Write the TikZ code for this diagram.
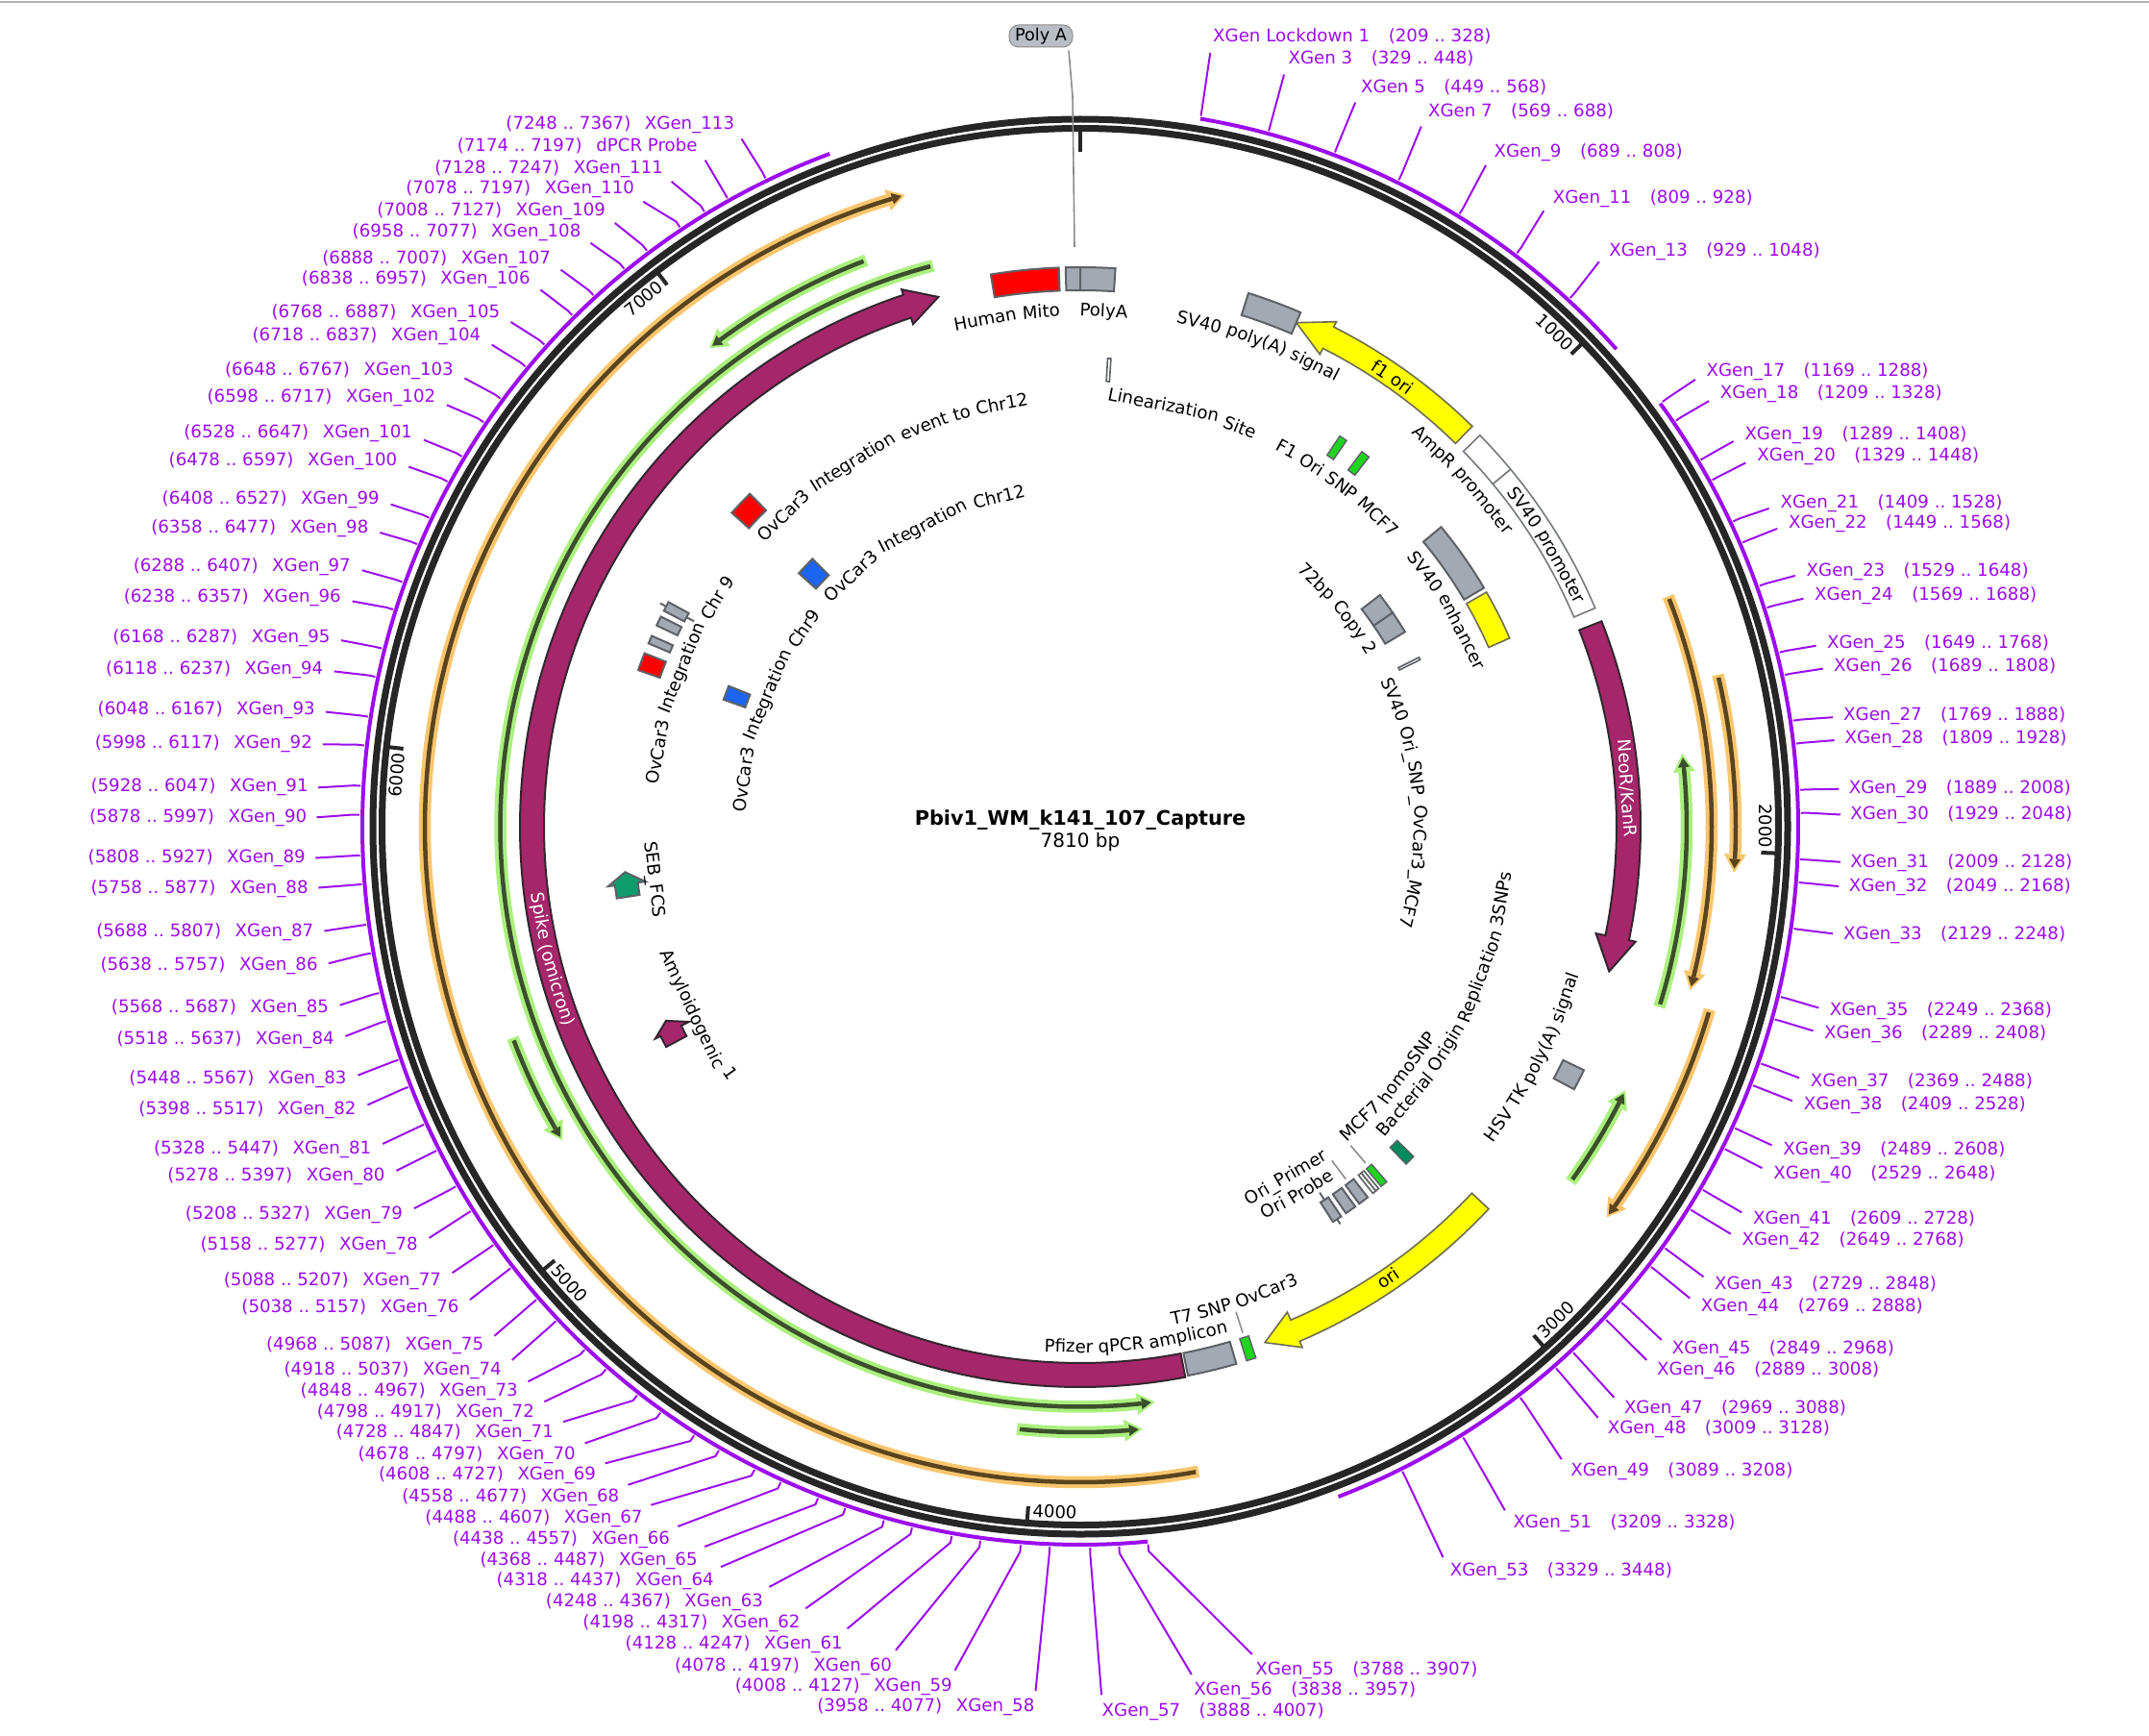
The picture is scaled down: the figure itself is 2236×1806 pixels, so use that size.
\documentclass[tikz,border=0pt]{standalone}
\usepackage{fontspec}
\setmainfont{DejaVu Sans}
\definecolor{ring}{HTML}{262626}
\definecolor{purp}{HTML}{9C0CEE}
\definecolor{fgrayc}{HTML}{A3A9B3}
\definecolor{oline}{HTML}{5E6166}
\definecolor{maroon}{HTML}{A6266B}
\definecolor{mline}{HTML}{33262E}
\definecolor{yell}{HTML}{FFFF00}
\definecolor{yline}{HTML}{6E6E50}
\definecolor{fred}{HTML}{FF0000}
\definecolor{fblue}{HTML}{1C64F2}
\definecolor{fbright}{HTML}{1FD41F}
\definecolor{fdgreen}{HTML}{008A5E}
\definecolor{fseb}{HTML}{0E9C6C}
\definecolor{pgreen}{HTML}{ABF07E}
\definecolor{cgreen}{HTML}{3B4F2C}
\definecolor{porange}{HTML}{F9C66E}
\definecolor{corange}{HTML}{59441F}
\definecolor{pillc}{HTML}{B9BDC4}
\definecolor{gleader}{HTML}{8C8C8C}
\newcommand\labf{\fontsize{18.2}{18.2}\selectfont}
\newcommand\nkName{NeoR/KanR}
\newlength\wW
\newcounter{wc}
\newcommand\boxf[5][]{%
  \pgfmathtruncatemacro\bNs{abs(#3-(#2))*1.5+3}%
  \draw[#1] plot[domain=#2:#3,samples=\bNs] ({\x-90}:#5) -- plot[domain=#3:#2,samples=\bNs] ({\x-90}:#4) -- cycle;}
\newcommand\arrowf[8][]{%
  \pgfmathtruncatemacro\bNs{abs(#3-(#2))*1.5+3}%
  \draw[#1] plot[domain=#2:#3,samples=\bNs] ({\x-90}:#6) -- ({#3-90}:#8) -- ({#4-90}:{(#5+#6)/2}) -- ({#3-90}:#7) -- plot[domain=#3:#2,samples=\bNs] ({\x-90}:#5) -- cycle;}
\newcommand\bandf[5]{%
  \pgfmathsetmacro\bSg{#4>#3?1:-1}%
  \pgfmathsetmacro\bDg{57.3/#5}%
  \pgfmathsetmacro\bTb{#4-\bSg*19*\bDg}%
  \pgfmathsetmacro\bTc{#4-\bSg*14*\bDg}%
  \pgfmathsetmacro\bTe{#4-\bSg*4*\bDg}%
  \pgfmathsetmacro\bTs{#3+\bSg*3*\bDg}%
  \pgfmathtruncatemacro\bNs{abs(#4-(#3))*1.5+3}%
  \draw[#1,line width=12.5pt] plot[domain=#3:\bTb,samples=\bNs] ({\x-90}:#5);
  \fill[#1] ({\bTb-90}:{#5+11.5}) -- ({#4-90}:#5) -- ({\bTb-90}:{#5-11.5}) -- cycle;
  \draw[#2,line width=4.5pt] plot[domain=\bTs:\bTc,samples=\bNs] ({\x-90}:#5);
  \fill[#2] ({\bTc-90}:{#5+6}) -- ({\bTe-90}:#5) -- ({\bTc-90}:{#5-6}) -- cycle;}
% words set along a circle: [colour]{centre angle}{baseline radius}{1 clockwise, -1 anticlockwise}{word/gap,...}
\newcommand\measureword[1]{\settowidth\wW{\pgfinterruptpicture\labf #1\endpgfinterruptpicture}}
\newcommand\arcwords[5][black]{%
  \gdef\wTot{0}%
  \foreach \wD/\wG in {#5}{%
    \measureword{\wD}%
    \pgfmathsetmacro\wN{\wTot+\wW+\wG*5.79}%
    \xdef\wTot{\wN}%
  }%
  \gdef\wPos{0}%
  \foreach \wD/\wG in {#5}{%
    \stepcounter{wc}%
    \measureword{\wD}%
    \pgfmathsetmacro\wC{\wPos+\wW/2}%
    \pgfmathsetmacro\wT{#2+#4*(\wC-\wTot/2)/#3*57.296}%
    \pgfmathsetmacro\wR{#4>0?-\wT:180-\wT}%
    \node[anchor=base,inner sep=0pt,font=\labf,text=#1,rotate=\wR] (w\thewc) at ({\wT-90}:#3) {\wD};
    \pgfmathsetmacro\wN{\wPos+\wW+\wG*5.79}%
    \xdef\wPos{\wN}%
  }}
\newcommand\parcf[2]{%
  \pgfmathsetmacro\pA{#1/7810*360}\pgfmathsetmacro\pB{#2/7810*360}%
  \pgfmathtruncatemacro\bNs{abs(\pB-\pA)*1.5+3}%
  \draw[purp,line width=4pt] plot[domain=\pA:\pB,samples=\bNs] ({\x-90}:747);}
\tikzset{
  fgray/.style={fill=fgrayc,draw=oline,line width=2pt},
  fwhite/.style={fill=white,draw=oline!85,line width=1.6pt},
  fmar/.style={fill=maroon,draw=mline,line width=2pt},
  fyel/.style={fill=yell,draw=yline,line width=1.6pt},
  fredb/.style={fill=fred,draw=oline,line width=2pt},
  fblueb/.style={fill=fblue,draw=oline,line width=2pt},
  fbr/.style={fill=fbright,draw=oline,line width=1.4pt},
  fdg/.style={fill=fdgreen,draw=oline,line width=1.4pt},
  fsb/.style={fill=fseb,draw=oline,line width=2pt},
  tbox/.style={fill=white,draw=oline,line width=1.6pt},
  gthin/.style={draw=gleader,line width=1.6pt},
  lead/.style={draw=purp,line width=2pt},
  xlab/.style={text=purp,inner sep=0pt,font=\fontsize{18.2}{18.2}\selectfont,text height=13.5pt,text depth=3.5pt},
  ticklab/.style={inner sep=0pt,font=\fontsize{18}{18}\selectfont},
  ringl/.style={draw=ring,line width=7pt},
  tickl/.style={draw=ring,line width=4pt},
  pill/.style={fill=pillc,draw=gleader,line width=1pt,rounded corners=10pt,minimum width=66pt,minimum height=23pt,inner sep=0pt,font=\fontsize{17.6}{17.6}\selectfont}
}
\begin{document}
\begin{tikzpicture}[x=1pt,y=-1pt]
\useasboundingbox (0,0) rectangle (2236,1806);
\fill[black!30] (0,1) rectangle (2236,3.5);
\begin{scope}[shift={(1124,860)}]
% backbone
\draw[ringl] (0:736pt) arc[start angle=0,end angle=360,radius=736pt];
\draw[ringl] (0:726.5pt) arc[start angle=0,end angle=360,radius=726.5pt];
\draw[tickl] ({-90}:724) -- ({-90}:702);
\foreach \bT/\bF in {1000/0,2000/0,3000/180,4000/180,5000/180,6000/0,7000/0}{
  \pgfmathsetmacro\tA{\bT/7810*360}
  \pgfmathsetmacro\tB{\tA-2.25}
  \pgfmathsetmacro\tR{\bF-\tB}
  \draw[tickl] ({\tA-90}:724) -- ({\tA-90}:709);
  \node[ticklab,rotate=\tR] (T\bT) at ({\tB-90}:713) {\bT};
}
% feature track arcs
\parcf{209}{1048}
\parcf{1169}{3448}
\parcf{3788}{7367}
% bands
\bandf{porange}{corange}{169.6}{344.5}{682}
\bandf{porange}{corange}{68.6}{105}{657}
\bandf{porange}{corange}{76.6}{94}{682}
\bandf{porange}{corange}{106.2}{126.6}{682}
\bandf{pgreen}{cgreen}{345.3}{172.6}{603.5}
\bandf{pgreen}{cgreen}{339.3}{322.2}{630}
\bandf{pgreen}{cgreen}{249.6}{238.8}{630}
\bandf{pgreen}{cgreen}{186}{174.1}{630}
\bandf{pgreen}{cgreen}{107.3}{83.1}{631}
\bandf{pgreen}{cgreen}{125.9}{115.8}{630}
% main ring features
\arrowf[fmar]{68.5}{101.7}{105.3}{558}{583}{548}{590}
\arrowf[fmar]{169.2}{341.6}{345}{558}{583}{551}{589}
\arrowf[fyel]{44.4}{26.9}{23.2}{558}{583}{551}{589}
\arrowf[fyel]{133.1}{156.9}{160.3}{558}{582}{549}{589}
\boxf[fwhite]{45.6}{50.3}{558}{582}
\boxf[fwhite]{50.3}{67}{558}{582}
\boxf[fgray]{163.8}{168.9}{558}{582}
\boxf[fbr]{161.7}{162.7}{558}{582}
\boxf[fgray]{115.8}{118}{558}{582}
\boxf[fgray]{17.5}{23.2}{558}{582}
\boxf[fredb]{-9.2}{-2.2}{558}{582}
\boxf[fgray]{-1.5}{0}{558}{582}
\boxf[fgray]{0}{3.6}{558}{582}
% second ring
\boxf[fgray]{50.3}{59.4}{464}{488}
\boxf[fyel]{60}{66.3}{464}{488}
\boxf[fbr]{33.6}{34.6}{464}{488}
\boxf[fbr]{36.9}{38}{464}{488}
\boxf[tbox]{3.35}{3.75}{464}{488}
\boxf[fdg]{134.7}{136}{464}{488}
\boxf[fbr]{139.2}{140.1}{464}{488}
\boxf[tbox]{140.5}{140.95}{464}{488}
\boxf[tbox]{140.95}{141.4}{464}{488}
\boxf[fgray]{142.2}{143.5}{464}{488}
\boxf[fgray]{144.1}{145.5}{464}{488}
\draw[draw=oline,line width=2pt] ({146.8-90}:455) -- ({146.8-90}:494);
\boxf[fgray]{146.2}{147.4}{464}{488}
\boxf[fredb]{312}{315.2}{464}{488}
\boxf[fredb]{289.5}{291.7}{464}{488}
\boxf[fgray]{293}{294}{464}{488}
\boxf[fgray]{295.4}{296.6}{464}{488}
\draw[draw=oline,line width=2pt] ({298-90}:455) -- ({298-90}:495);
\boxf[fgray]{297.4}{298.6}{464}{488}
\arrowf[fsb]{261.2}{262.8}{264.3}{464}{488}{456}{495}
\arrowf[fmar]{242}{243.5}{244.9}{464}{488}{455}{494}
% third ring
\boxf[fgray]{52.3}{55.6}{370}{394}
\boxf[fgray]{55.6}{59.05}{370}{394}
\boxf[tbox]{63.45}{63.85}{370}{394}
\boxf[fblueb]{312}{315}{370}{394}
\boxf[fblueb]{289.6}{291.8}{370}{394}
% thin leaders
\draw[gthin] ({162.2-90}:530) -- ({162.2-90}:553);
\draw[gthin] ({143-90}:435) -- ({143-90}:459);
\draw[gthin] ({139.7-90}:435) -- ({139.7-90}:459);
% curved labels
\arcwords{-8.2}{531}{1}{Human/1,Mito/0}
\arcwords{2.6}{531}{1}{PolyA/0}
\arcwords{20.3}{533}{1}{SV40/1,poly(A)/1,signal/0}
\arcwords{34.8}{563}{1}{f1/1,ori/0}
\arcwords{47.8}{534}{1}{AmpR/1,promoter/0}
\arcwords{58.9}{563}{1}{SV40/1,promoter/0}
\arcwords{59.5}{440}{1}{SV40/1,enhancer/0}
\arcwords{37.2}{441}{1}{F1/1,Ori/1,SNP/1,MCF7/0}
\arcwords{13.8}{441}{1}{Linearization/1,Site/0}
\arcwords{49.7}{348}{1}{72bp/1,Copy/1,2/0}
\arcwords{85.7}{347}{1}{SV40/1,Ori\_/0,SNP\_/0,OvCar3\_/0,MCF7/0}
\arcwords{115.9}{451}{-1}{Bacterial/1,Origin/1,Replication/1,3SNPs/0}
\arcwords{130.2}{429}{-1}{MCF7/1,homoSNP/0}
\arcwords{149.6}{429}{-1}{Ori\_Primer/0}
\arcwords{149.5}{451}{-1}{Ori/1,Probe/0}
\arcwords{117}{541}{-1}{HSV/1,TK/1,poly(A)/1,signal/0}
\arcwords{145.7}{575}{-1}{ori/0}
\arcwords{162}{527}{-1}{T7/1,SNP/1,OvCar3/0}
\arcwords{173.8}{547}{-1}{Pfizer/1,qPCR/1,amplicon/0}
\arcwords{-27.5}{441}{1}{OvCar3/1,Integration/1,event/1,to/1,Chr12/0}
\arcwords{-28.7}{347}{1}{OvCar3/1,Integration/1,Chr12/0}
\arcwords{-69.2}{347}{1}{OvCar3/1,Integration/1,Chr9/0}
\arcwords{-69.5}{440}{1}{OvCar3/1,Integration/1,Chr/1,9/0}
\arcwords{262.9}{452}{-1}{SEB\_FCS/0}
\arcwords{243.7}{452}{-1}{Amyloidogenic/1,1/0}
\arcwords[white]{86}{564}{1}{\nkName/0}
\arcwords[white]{255.9}{575}{-1}{Spike/1,{(omicron)}/0}
\end{scope}
% title
\node[inner sep=0pt,font=\fontsize{20.8}{20.8}\selectfont\bfseries] (title) at (1124,853) {Pbiv1\_WM\_k141\_107\_Capture};
\node[inner sep=0pt,font=\fontsize{20}{20}\selectfont] (size) at (1124,875.5) {7810 bp};
% callout
\node[pill] (polyA) at (1083,37.5) {Poly A};
\coordinate (pa1) at (1116,100);
\coordinate (pa2) at (1118,257);
\draw[gthin] ([xshift=29pt,yshift=-3pt]polyA.south) -- (pa1) -- (pa2);
% right-hand labels
\foreach \lS/\lN/\lE/\lX/\lY in {
209/XGen Lockdown 1/328/885/26,
329/XGen 3/448/940/42,
449/XGen 5/568/993/63,
569/XGen 7/688/1042/81,
689/XGen\_9/808/1090/110,
809/XGen\_11/928/1133/144,
929/XGen\_13/1048/1174/182,
1169/XGen\_17/1288/1245/270,
1209/XGen\_18/1328/1255/286,
1289/XGen\_19/1408/1273/316,
1329/XGen\_20/1448/1282/332,
1409/XGen\_21/1528/1299/366,
1449/XGen\_22/1568/1305/381,
1529/XGen\_23/1648/1318/416,
1569/XGen\_24/1688/1324/433,
1649/XGen\_25/1768/1333/468,
1689/XGen\_26/1808/1338/485,
1769/XGen\_27/1888/1345/521,
1809/XGen\_28/1928/1346/538,
1889/XGen\_29/2008/1349/574,
1929/XGen\_30/2048/1350/593,
2009/XGen\_31/2128/1350/628,
2049/XGen\_32/2168/1349/646,
2129/XGen\_33/2248/1345/681,
2249/XGen\_35/2368/1335/736,
2289/XGen\_36/2408/1331/753,
2369/XGen\_37/2488/1321/788,
2409/XGen\_38/2528/1316/805,
2489/XGen\_39/2608/1301/838,
2529/XGen\_40/2648/1294/855,
2609/XGen\_41/2728/1279/888,
2649/XGen\_42/2768/1271/904,
2729/XGen\_43/2848/1251/936,
2769/XGen\_44/2888/1241/952,
2849/XGen\_45/2968/1220/983,
2889/XGen\_46/3008/1209/998,
2969/XGen\_47/3088/1185/1026,
3009/XGen\_48/3128/1173/1041,
3089/XGen\_49/3208/1146/1072,
3209/XGen\_51/3328/1104/1110,
3329/XGen\_53/3448/1058/1145,
3788/XGen\_55/3907/916/1217,
3838/XGen\_56/3957/871/1232,
3888/XGen\_57/4007/804/1247}{
  \pgfmathsetmacro\lPx{\lX*1.426}
  \pgfmathsetmacro\lPy{\lY*1.4265+1.4}
  \pgfmathsetmacro\lNr{veclen(\lPx-1124,\lPy-860)}
  \pgfmathsetmacro\lD{10+7*abs(\lPy-860)/\lNr}
  \pgfmathsetmacro\lEx{\lPx-(\lPx-1124)/\lNr*\lD}
  \pgfmathsetmacro\lEy{\lPy-(\lPy-860)/\lNr*\lD}
  \pgfmathsetmacro\lA{\lS/7810*360-90}
  \node[xlab,anchor=west] (L\lS) at (\lPx,\lPy) {\lN\hspace{1.07em}(\lS\ ..\ \lE)};
  \coordinate (E\lS) at (\lEx,\lEy);
  \coordinate (S\lS) at ({1124+750*cos(\lA)},{860+750*sin(\lA)});
  \coordinate (K\lS) at ({1124+757*cos(\lA)},{860+757*sin(\lA)});
  \draw[lead] (S\lS) -- (K\lS) -- (E\lS);
}
% left-hand labels
\foreach \lS/\lN/\lE/\lX/\lY in {
3958/XGen\_58/4077/755/1244,
4008/XGen\_59/4127/695/1229,
4078/XGen\_60/4197/651/1214,
4128/XGen\_61/4247/615/1198,
4198/XGen\_62/4317/584/1183,
4248/XGen\_63/4367/557/1167,
4318/XGen\_64/4437/521/1152,
4368/XGen\_65/4487/509/1137,
4438/XGen\_66/4557/489/1122,
4488/XGen\_67/4607/469/1106,
4558/XGen\_68/4677/452/1091,
4608/XGen\_69/4727/435/1075,
4678/XGen\_70/4797/420/1060,
4728/XGen\_71/4847/404/1044,
4798/XGen\_72/4917/390/1029,
4848/XGen\_73/4967/378/1014,
4918/XGen\_74/5037/366/998,
4968/XGen\_75/5087/353/980,
5038/XGen\_76/5157/335/953,
5088/XGen\_77/5207/322/933,
5158/XGen\_78/5277/305/907,
5208/XGen\_79/5327/294/885,
5278/XGen\_80/5397/281/857,
5328/XGen\_81/5447/271/837,
5398/XGen\_82/5517/260/808,
5448/XGen\_83/5567/253/786,
5518/XGen\_84/5637/244/757,
5568/XGen\_85/5687/240/734,
5638/XGen\_86/5757/232/703,
5688/XGen\_87/5807/229/679,
5758/XGen\_88/5877/225/647,
5808/XGen\_89/5927/223/625,
5878/XGen\_90/5997/224/595,
5928/XGen\_91/6047/225/573,
5998/XGen\_92/6117/228/541,
6048/XGen\_93/6167/230/517,
6118/XGen\_94/6237/236/487,
6168/XGen\_95/6287/241/464,
6238/XGen\_96/6357/249/435,
6288/XGen\_97/6407/256/412,
6358/XGen\_98/6477/269/384,
6408/XGen\_99/6527/277/363,
6478/XGen\_100/6597/290/335,
6528/XGen\_101/6647/301/315,
6598/XGen\_102/6717/318/289,
6648/XGen\_103/6767/331/269,
6718/XGen\_104/6837/351/244,
6768/XGen\_105/6887/365/227,
6838/XGen\_106/6957/387/203,
6888/XGen\_107/7007/402/188,
6958/XGen\_108/7077/424/168,
7008/XGen\_109/7127/442/153,
7078/XGen\_110/7197/463/137,
7128/XGen\_111/7247/484/122,
7174/dPCR Probe/7197/509/106,
7248/XGen\_113/7367/536/90}{
  \pgfmathsetmacro\lPx{\lX*1.426}
  \pgfmathsetmacro\lPy{\lY*1.4265+1.4}
  \pgfmathsetmacro\lNr{veclen(\lPx-1124,\lPy-860)}
  \pgfmathsetmacro\lD{10+7*abs(\lPy-860)/\lNr}
  \pgfmathsetmacro\lEx{\lPx-(\lPx-1124)/\lNr*\lD}
  \pgfmathsetmacro\lEy{\lPy-(\lPy-860)/\lNr*\lD}
  \pgfmathsetmacro\lA{\lS/7810*360-90}
  \node[xlab,anchor=east] (L\lS) at (\lPx,\lPy) {(\lS\ ..\ \lE)\hspace{.8em}\lN};
  \coordinate (E\lS) at (\lEx,\lEy);
  \coordinate (S\lS) at ({1124+750*cos(\lA)},{860+750*sin(\lA)});
  \coordinate (K\lS) at ({1124+757*cos(\lA)},{860+757*sin(\lA)});
  \draw[lead] (S\lS) -- (K\lS) -- (E\lS);
}
\end{tikzpicture}
\end{document}
